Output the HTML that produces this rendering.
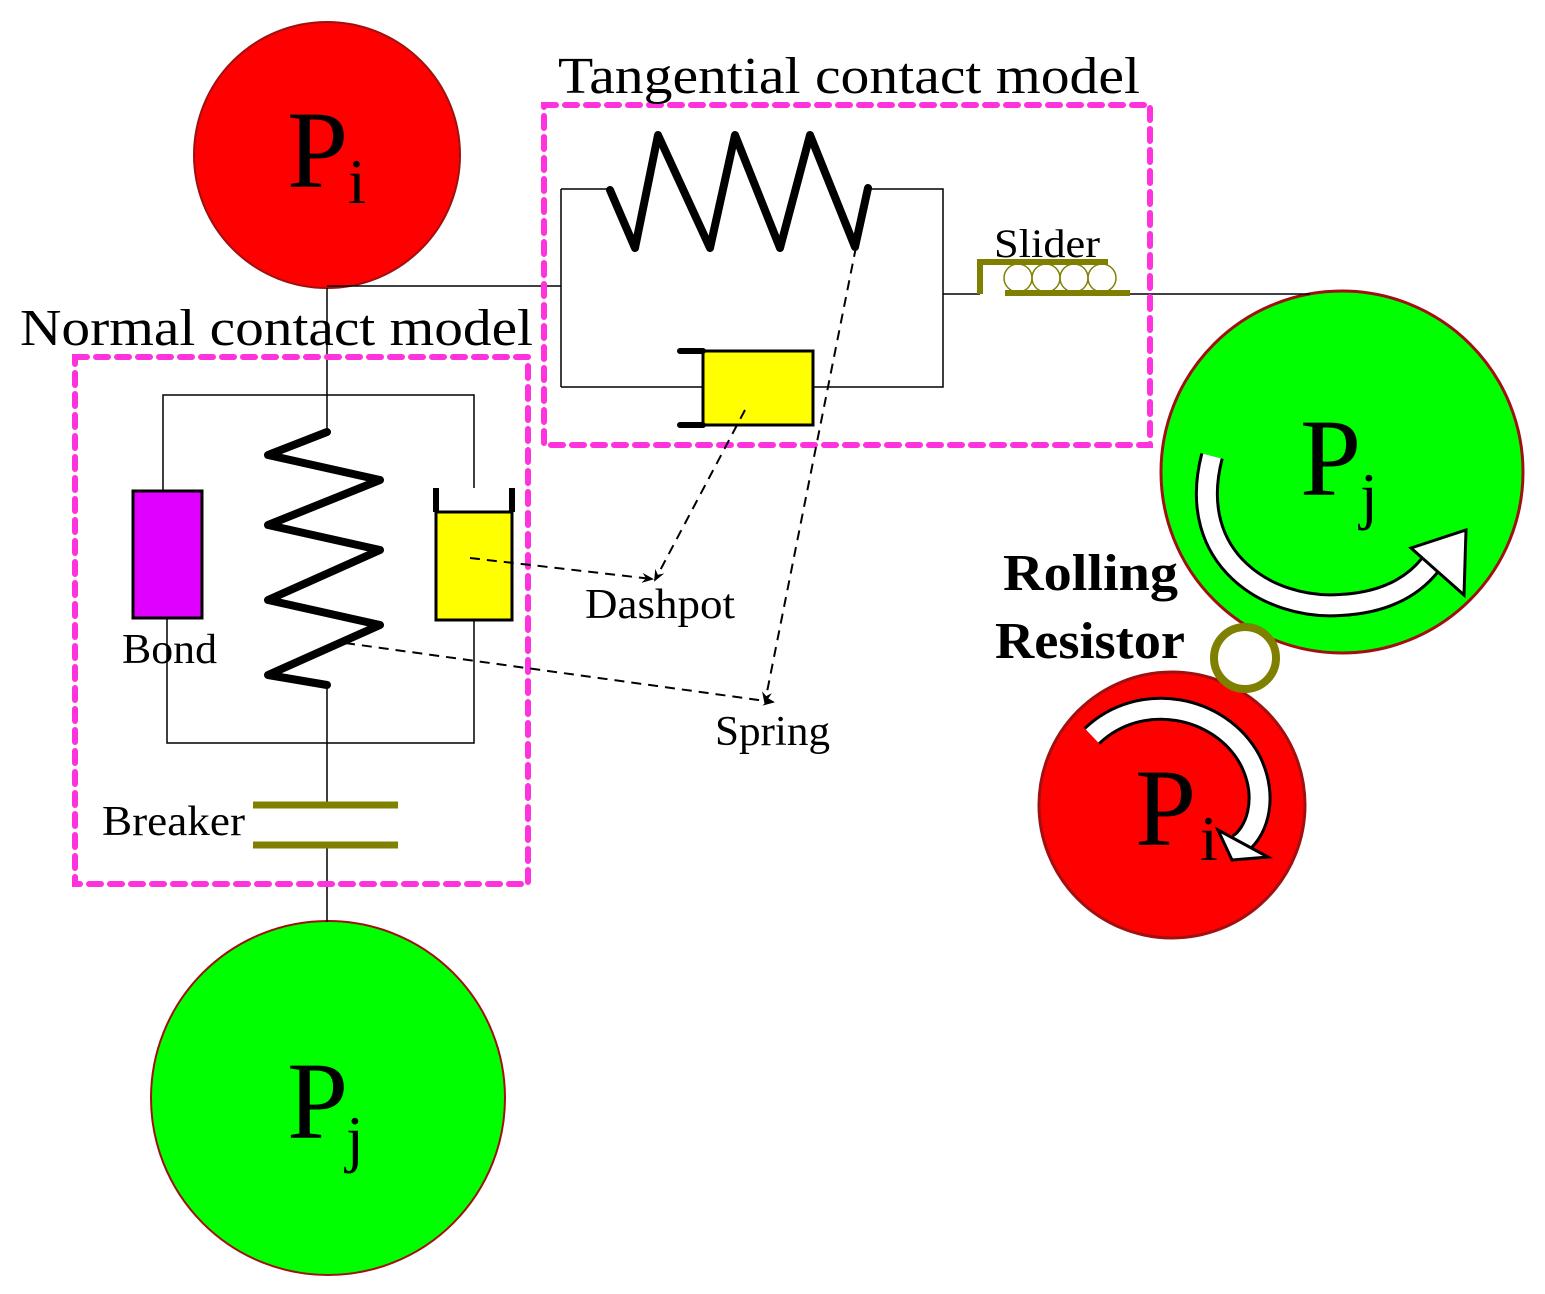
<!DOCTYPE html>
<html><head><style>body{margin:0;background:#fff}svg{display:block}text{font-family:"Liberation Serif",serif}</style></head>
<body>
<svg width="1545" height="1294" viewBox="0 0 1545 1294" xmlns="http://www.w3.org/2000/svg">
<defs><marker id="ah" markerWidth="12" markerHeight="10" refX="10" refY="5" orient="auto" markerUnits="userSpaceOnUse"><path d="M0,0 L12,5 L0,10 L4,5 z" fill="#000"/></marker></defs>
<circle cx="327" cy="155" r="133" fill="#f00" stroke="#a01010" stroke-width="2"/>
<circle cx="328" cy="1098" r="177" fill="#0f0" stroke="#a01010" stroke-width="2"/>
<circle cx="1342" cy="472" r="181" fill="#0f0" stroke="#a01010" stroke-width="3"/>
<circle cx="1172" cy="805" r="133" fill="#f00" stroke="#a01010" stroke-width="3"/>
<circle cx="1245" cy="658" r="31" fill="none" stroke="#808000" stroke-width="8"/>
<g stroke="#000" stroke-width="1.5" fill="none">
<path d="M327,288 V432 M327,685 V805 M327,845 V922"/>
<path d="M327,286 H561 M561,189 V387 M561,189 H610 M868,189 H943 V387 H813 M703,387 H561 M943,294 H980 M1130,294 H1310"/>
<path d="M163,491 V395 H474 V488 M167,618 V743 H474 V620"/>
</g>
<rect x="75" y="357" width="453" height="527" fill="none" stroke="#ff33dd" stroke-width="6" stroke-dasharray="12,9" stroke-linecap="round"/>
<rect x="544" y="105" width="606" height="340" fill="none" stroke="#ff33dd" stroke-width="6" stroke-dasharray="12,9" stroke-linecap="round"/>
<polyline points="327,432 268,455 380,480 268,525 380,550 268,600 380,625 268,675 327,685" fill="none" stroke="#000" stroke-width="8" stroke-linejoin="round" stroke-linecap="round"/>
<polyline points="610,190 635,248 658,135 710,248 735,135 780,248 810,135 855,247 868,188" fill="none" stroke="#000" stroke-width="8" stroke-linejoin="round" stroke-linecap="round"/>
<rect x="133" y="491" width="69" height="127" fill="#e000ff" stroke="#000" stroke-width="3"/>
<rect x="436" y="512" width="76" height="108" fill="#ff0" stroke="#000" stroke-width="3"/>
<path d="M436,488 V512 M512,488 V512" stroke="#000" stroke-width="6"/>
<rect x="703" y="351" width="110" height="74" fill="#ff0" stroke="#000" stroke-width="3"/>
<path d="M680,351 H703 M680,425 H703" stroke="#000" stroke-width="6" stroke-linecap="round"/>
<path d="M253,805 H398 M253,845 H398" stroke="#808000" stroke-width="7"/>
<g fill="none" stroke="#808000">
<path d="M980,294 V262 H1108 M1005,293 H1130" stroke-width="6"/>
<circle cx="1018" cy="278" r="14" stroke-width="1.5"/><circle cx="1046" cy="278" r="14" stroke-width="1.5"/><circle cx="1074" cy="278" r="14" stroke-width="1.5"/><circle cx="1102" cy="278" r="14" stroke-width="1.5"/>
</g>
<g stroke="#000" stroke-width="2" stroke-dasharray="10,7" fill="none" marker-end="url(#ah)">
<path d="M470,558 L652,579"/>
<path d="M745,410 L655,580"/>
<path d="M345,643 L773,702"/>
<path d="M856,247 L765,702"/>
</g>
<path d="M1212,456 C1185,560 1270,610 1340,605 C1380,603 1410,590 1430,565" fill="none" stroke="#000" stroke-width="24"/>
<path d="M1212,456 C1185,560 1270,610 1340,605 C1380,603 1410,590 1430,565" fill="none" stroke="#fff" stroke-width="18"/>
<polygon points="1411,548 1466,530 1464,595" fill="#fff" stroke="#000" stroke-width="3"/>
<path d="M1092,736 C1140,690 1220,705 1250,760 C1270,800 1255,835 1238,845" fill="none" stroke="#000" stroke-width="24"/>
<path d="M1092,736 C1140,690 1220,705 1250,760 C1270,800 1255,835 1238,845" fill="none" stroke="#fff" stroke-width="18"/>
<polygon points="1218,830 1268,857 1232,860" fill="#fff" stroke="#000" stroke-width="3"/>
<g fill="#000">
<text x="287" y="187" font-size="110">P</text><text x="348" y="203" font-size="64">i</text>
<text x="287" y="1138" font-size="110">P</text><text x="346" y="1160" font-size="64">j</text>
<text x="1300" y="495" font-size="110">P</text><text x="1360" y="517" font-size="64">j</text>
<text x="1135" y="845" font-size="110">P</text><text x="1200" y="860" font-size="64">i</text>
<text x="558" y="93" font-size="52" textLength="582" lengthAdjust="spacingAndGlyphs">Tangential contact model</text>
<text x="20" y="345" font-size="52" textLength="513" lengthAdjust="spacingAndGlyphs">Normal contact model</text>
<text x="585" y="618" font-size="42" textLength="150" lengthAdjust="spacingAndGlyphs">Dashpot</text>
<text x="715" y="745" font-size="42" textLength="115" lengthAdjust="spacingAndGlyphs">Spring</text>
<text x="122" y="663" font-size="42" textLength="95" lengthAdjust="spacingAndGlyphs">Bond</text>
<text x="102" y="835" font-size="42" textLength="143" lengthAdjust="spacingAndGlyphs">Breaker</text>
<text x="994" y="257" font-size="40" textLength="106" lengthAdjust="spacingAndGlyphs">Slider</text>
<text x="1003" y="590" font-size="52" font-weight="bold" textLength="175" lengthAdjust="spacingAndGlyphs">Rolling</text>
<text x="995" y="658" font-size="52" font-weight="bold" textLength="190" lengthAdjust="spacingAndGlyphs">Resistor</text>
</g>
</svg>
</body></html>
